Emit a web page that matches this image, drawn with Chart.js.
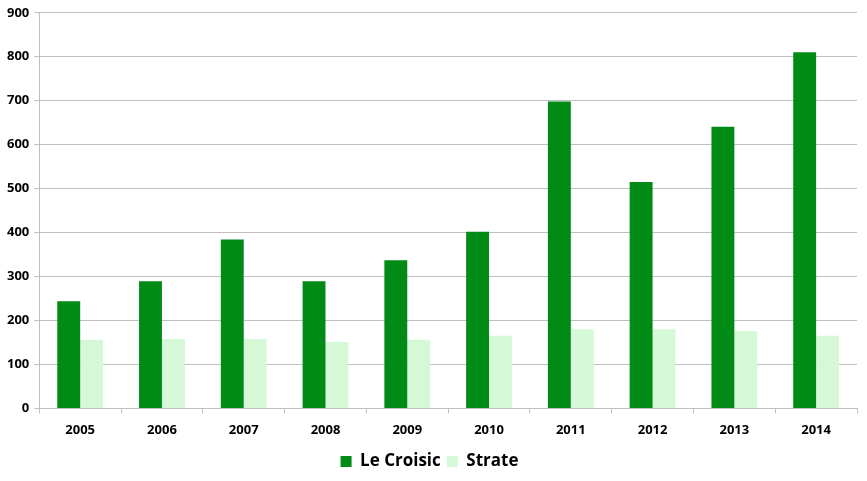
<!DOCTYPE html>
<html>
<head>
<meta charset="utf-8">
<script src="https://cdn.jsdelivr.net/npm/chart.js@4/dist/chart.umd.min.js"></script>
<style>
html,body{margin:0;padding:0;background:#fff;}
#wrap{width:867px;height:481px;}
</style>
</head>
<body>
<div id="wrap"><canvas id="c" width="867" height="481"></canvas></div>
<script>
const categories = ['2005','2006','2007','2008','2009','2010','2011','2012','2013','2014'];
const leCroisic = [244, 289, 384, 289, 337, 402, 698, 515, 641, 810];
const strate = [156, 158, 158, 151, 156, 165, 180, 180, 176, 165];
const seriesNames = ['Le Croisic', 'Strate'];

new Chart(document.getElementById('c'), {
  type: 'bar',
  data: {
    labels: categories,
    datasets: [
      {label: seriesNames[0], data: leCroisic, backgroundColor: '#008A16', borderWidth: 0},
      {label: seriesNames[1], data: strate, backgroundColor: '#D5F8D6', borderWidth: 0}
    ]
  },
  options: {
    responsive: false,
    animation: false,
    devicePixelRatio: 1,
    layout: {padding: {top: 1, right: 10, left: 2, bottom: 1}},
    datasets: {bar: {categoryPercentage: 0.56, barPercentage: 1.0}},
    plugins: {
      tooltip: {enabled: false},
      legend: {
        position: 'bottom',
        labels: {
          boxWidth: 11, boxHeight: 11, padding: 6,
          color: '#000',
          font: {family: '"Open Sans", "Liberation Sans", sans-serif', size: 17, weight: 'bold'}
        }
      }
    },
    scales: {
      x: {
        grid: {display: true, drawOnChartArea: false, drawTicks: true, tickLength: 5, color: '#BFBFBF', offset: true},
        border: {color: '#BFBFBF', width: 1},
        ticks: {color: '#000', padding: 9, font: {family: '"Open Sans", "Liberation Sans", sans-serif', size: 13, weight: 'bold'}}
      },
      y: {
        min: 0, max: 900,
        ticks: {stepSize: 100, color: '#000', padding: 5, font: {family: '"Open Sans", "Liberation Sans", sans-serif', size: 13, weight: 'bold'}},
        grid: {color: '#BFBFBF', lineWidth: 1, drawTicks: true, tickLength: 5},
        border: {color: '#BFBFBF', width: 1}
      }
    }
  }
});
</script>
</body>
</html>
